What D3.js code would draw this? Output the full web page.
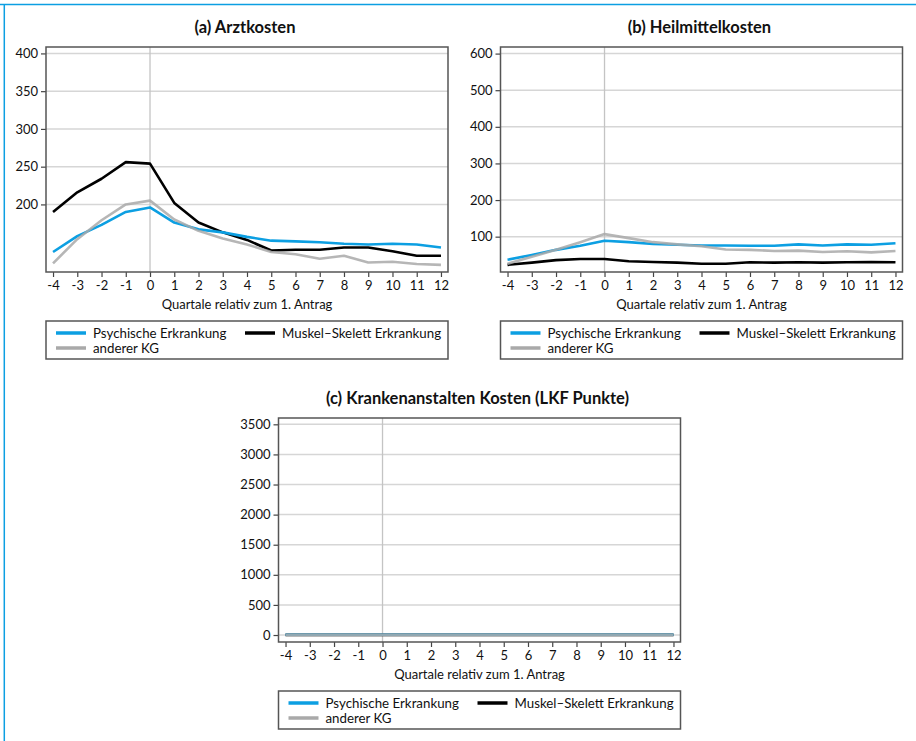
<!DOCTYPE html>
<html>
<head>
<meta charset="utf-8">
<script src="https://cdn.jsdelivr.net/npm/d3@7"></script>
<style>
  body { margin: 0; background: #fff; }
  svg { display: block; font-family: Lato, "Noto Sans", sans-serif; }
</style>
</head>
<body>
<div id="chart"></div>
<script>
// quarters relative to first application
var quartale = [-4, -3, -2, -1, 0, 1, 2, 3, 4, 5, 6, 7, 8, 9, 10, 11, 12];

// (a) Arztkosten
var arztPsych   = [137, 158, 173, 190, 196, 176, 167, 163, 157, 152, 151, 150, 148, 147, 148, 147, 143];
var arztMuskel  = [190, 216, 234, 256, 254, 202, 176, 163, 153, 139, 140, 140, 143, 143, 138, 132, 132];
var arztAnderer = [122, 154, 179, 200, 205, 180, 165, 155, 147, 137, 134, 128, 132, 123, 124, 121, 120];
var arztTicks = [200, 250, 300, 350, 400];

// (b) Heilmittelkosten
var heilPsych   = [37, 50, 64, 75, 89, 85, 80, 78, 76, 76, 75, 75, 79, 76, 79, 78, 82];
var heilMuskel  = [23, 29, 36, 39, 39, 33, 31, 29, 26, 26, 30, 29, 30, 29, 30, 31, 30];
var heilAnderer = [26, 45, 64, 85, 107, 96, 85, 79, 74, 65, 64, 61, 62, 58, 60, 57, 61];
var heilTicks = [100, 200, 300, 400, 500, 600];

// (c) Krankenanstalten Kosten (LKF Punkte)
var khPsych   = [4, 4, 4, 4, 4, 4, 4, 4, 4, 4, 4, 4, 4, 4, 4, 4, 4];
var khMuskel  = [2, 2, 2, 2, 2, 2, 2, 2, 2, 2, 2, 2, 2, 2, 2, 2, 2];
var khAnderer = [3, 3, 3, 3, 3, 3, 3, 3, 3, 3, 3, 3, 3, 3, 3, 3, 3];
var khTicks = [0, 500, 1000, 1500, 2000, 2500, 3000, 3500];

var seriesNames = ["Psychische Erkrankung", "Muskel\u2013Skelett Erkrankung", "anderer KG"];
var colors = { psych: "#0c9fe2", muskel: "#000000", anderer: "#a9a9a9" };

var svg = d3.select("#chart").append("svg")
    .attr("width", 916)
    .attr("height", 741);

// blue frame on top and left
svg.append("line").attr("x1", 0).attr("x2", 916).attr("y1", 4.5).attr("y2", 4.5)
    .attr("stroke", "#0c9fe2").attr("stroke-width", 1.5);
svg.append("line").attr("x1", 4.3).attr("x2", 4.3).attr("y1", 4).attr("y2", 741)
    .attr("stroke", "#0c9fe2").attr("stroke-width", 1.5);

function drawPanel(p) {
    var g = svg.append("g");
    var w = p.right - p.left, h = p.bottom - p.top;

    var x = d3.scaleLinear().domain([-4.29, 12.29]).range([p.left, p.right]);
    var y = d3.scaleLinear().domain(p.yDomain).range([p.bottom, p.top]);

    // title
    g.append("text")
        .attr("x", p.left + w / 2 - 2)
        .attr("y", p.top - 14)
        .attr("text-anchor", "middle")
        .style("font-size", "16.5px")
        .style("font-weight", "bold")
        .attr("fill", "#111")
        .text(p.title);

    // horizontal gridlines
    g.selectAll(".grid").data(p.ticks).enter().append("line")
        .attr("x1", p.left).attr("x2", p.right)
        .attr("y1", function (d) { return y(d); })
        .attr("y2", function (d) { return y(d); })
        .attr("stroke", "#d6d6d6").attr("stroke-width", 1.5);

    // vertical line at 0
    g.append("line")
        .attr("x1", x(0)).attr("x2", x(0))
        .attr("y1", p.top).attr("y2", p.bottom)
        .attr("stroke", "#c4c4c4").attr("stroke-width", 1.3);

    // axes
    var xAxis = g.append("g")
        .attr("transform", "translate(0," + p.bottom + ")")
        .call(d3.axisBottom(x).tickValues(quartale).tickSize(5).tickPadding(4).tickFormat(d3.format("d")));
    var yAxis = g.append("g")
        .attr("transform", "translate(" + p.left + ",0)")
        .call(d3.axisLeft(y).tickValues(p.ticks).tickSize(5).tickPadding(3).tickFormat(d3.format("d")));
    [xAxis, yAxis].forEach(function (a) {
        a.select(".domain").remove();
        a.selectAll(".tick line").attr("stroke", "#444").attr("stroke-width", 1.2);
        a.selectAll(".tick text").attr("fill", "#111").style("font-size", "13px")
            .style("font-family", "Lato, 'Noto Sans', sans-serif");
    });
    xAxis.selectAll(".tick text").text(function (d) { return d < 0 ? "-" + Math.abs(d) : d; });

    // lines
    var line = d3.line()
        .x(function (d, i) { return x(quartale[i]); })
        .y(function (d) { return y(d); });
    var series = [
        { values: p.muskel, color: colors.muskel, op: 1 },
        { values: p.psych, color: colors.psych, op: 1 },
        { values: p.anderer, color: colors.anderer, op: 0.85 }
    ];
    series.forEach(function (s) {
        g.append("path")
            .datum(s.values)
            .attr("fill", "none")
            .attr("stroke", s.color)
            .attr("stroke-opacity", s.op)
            .attr("stroke-width", 2.6)
            .attr("stroke-linejoin", "round")
            .attr("d", line);
    });

    // plot frame
    g.append("rect")
        .attr("x", p.left).attr("y", p.top)
        .attr("width", w).attr("height", h)
        .attr("fill", "none").attr("stroke", "#555").attr("stroke-width", 1.5);

    // x axis title
    g.append("text")
        .attr("x", p.left + w / 2)
        .attr("y", p.bottom + 37)
        .attr("text-anchor", "middle")
        .style("font-size", "13px")
        .attr("fill", "#111")
        .text("Quartale relativ zum 1. Antrag");

    // legend
    var ly = p.bottom + 49;
    g.append("rect")
        .attr("x", p.left).attr("y", ly)
        .attr("width", w).attr("height", 38)
        .attr("fill", "none").attr("stroke", "#555").attr("stroke-width", 1.5);
    var items = [
        { name: seriesNames[0], color: colors.psych, dx: 10, dy: 12 },
        { name: seriesNames[1], color: colors.muskel, dx: 199, dy: 12 },
        { name: seriesNames[2], color: colors.anderer, dx: 10, dy: 27 }
    ];
    var leg = g.selectAll(".legend").data(items).enter().append("g")
        .attr("transform", function (d) { return "translate(" + (p.left + d.dx) + "," + (ly + d.dy) + ")"; });
    leg.append("line")
        .attr("x1", 0).attr("x2", 30)
        .attr("stroke", function (d) { return d.color; })
        .attr("stroke-width", 3.5);
    leg.append("text")
        .attr("x", 37).attr("y", 4.5)
        .style("font-size", "13.3px")
        .attr("fill", "#111")
        .text(function (d) { return d.name; });
}

drawPanel({ title: "(a) Arztkosten", left: 46, top: 47, right: 448, bottom: 272,
    yDomain: [110.5, 408.5], ticks: arztTicks,
    psych: arztPsych, muskel: arztMuskel, anderer: arztAnderer });
drawPanel({ title: "(b) Heilmittelkosten", left: 500.5, top: 47, right: 902.5, bottom: 272,
    yDomain: [3.5, 618], ticks: heilTicks,
    psych: heilPsych, muskel: heilMuskel, anderer: heilAnderer });
drawPanel({ title: "(c) Krankenanstalten Kosten (LKF Punkte)", left: 278.5, top: 418, right: 680.5, bottom: 642,
    yDomain: [-116, 3605], ticks: khTicks,
    psych: khPsych, muskel: khMuskel, anderer: khAnderer });
</script>
</body>
</html>
